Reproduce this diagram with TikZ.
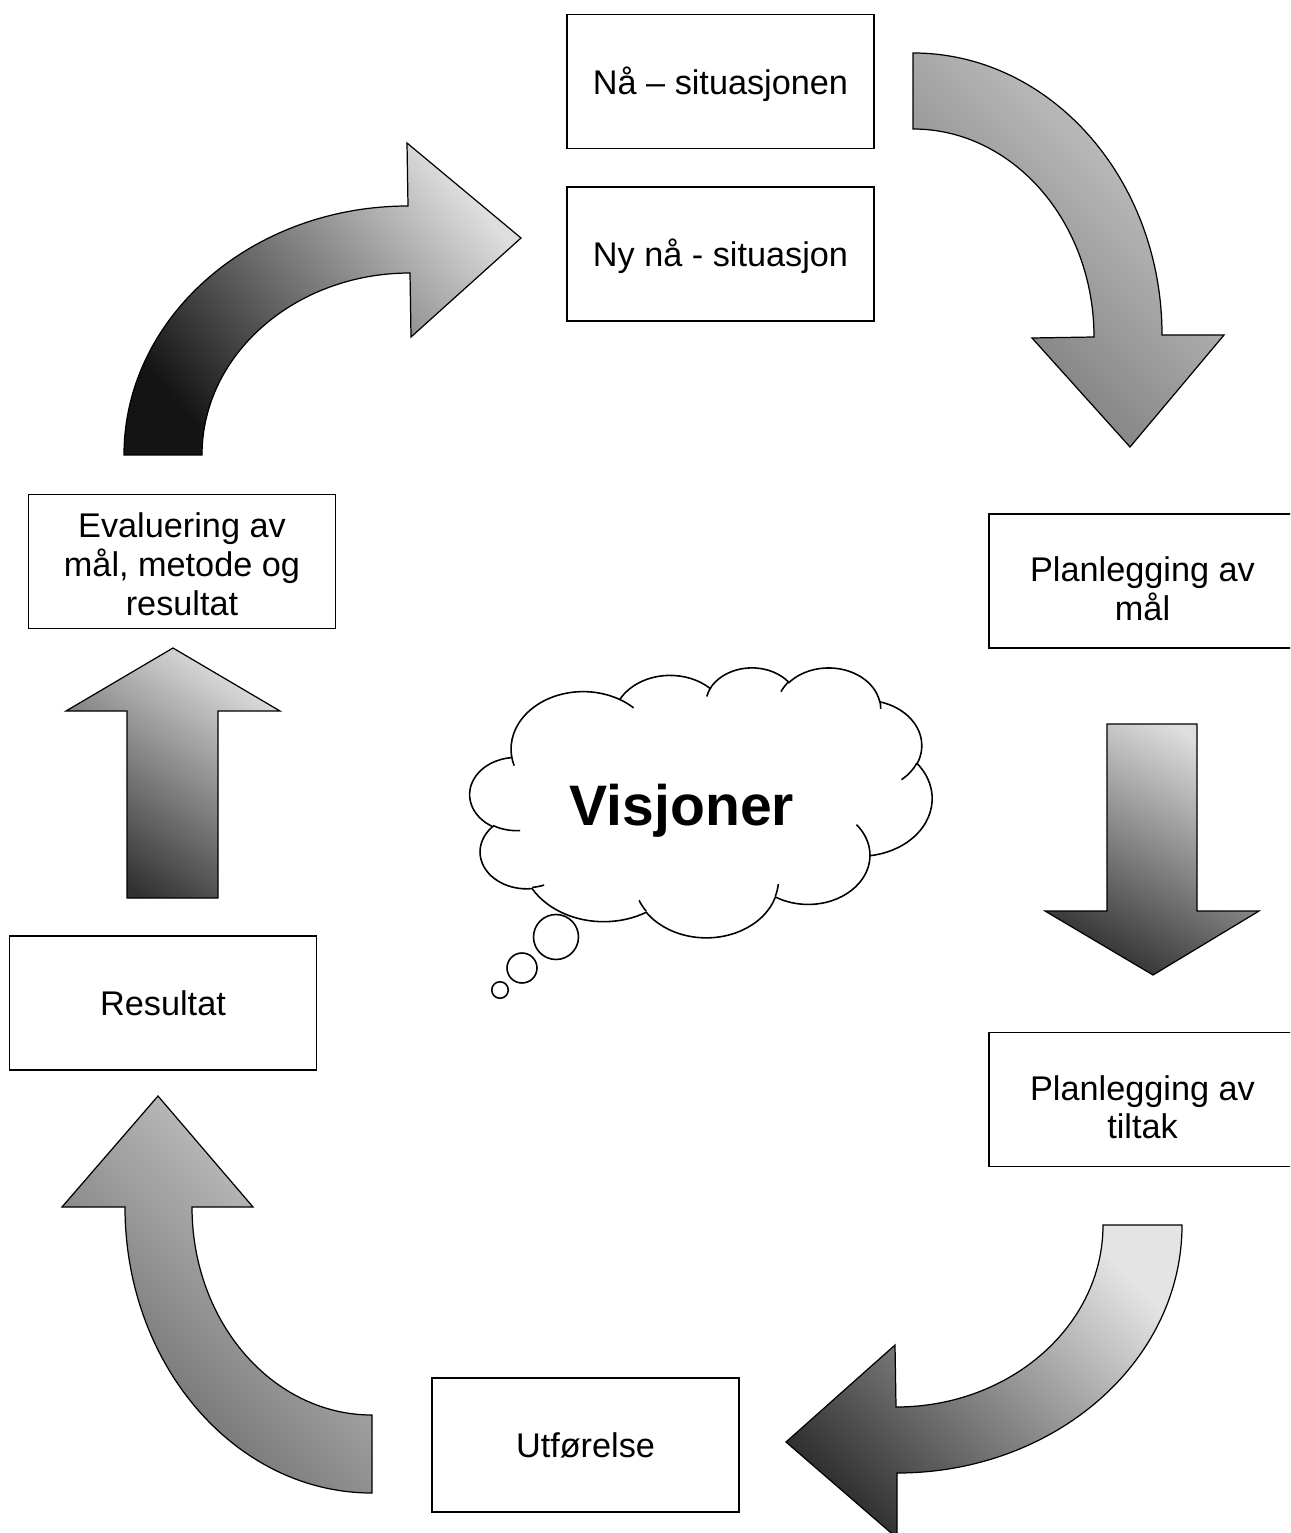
\documentclass[tikz,border=0pt]{standalone}
\usepackage{fontspec}
\setmainfont{Liberation Sans}
\usepackage{tikz}
\usetikzlibrary{positioning}

\definecolor{litea}{RGB}{205,205,205}
\definecolor{darka}{RGB}{115,115,115}
\definecolor{liteb}{RGB}{222,222,222}
\definecolor{darkb}{RGB}{20,20,20}
\definecolor{litec}{RGB}{228,228,228}
\definecolor{darkc}{RGB}{50,50,50}
\definecolor{lited}{RGB}{205,205,205}
\definecolor{darkd}{RGB}{100,100,100}

% parametric angle of an ellipse point given by its visual angle
\pgfmathdeclarefunction{pang}{2}{%
  \begingroup
  \pgfmathparse{#2+atan((#1-1)*sin(#2)*cos(#2)/(cos(#2)*cos(#2)+#1*sin(#2)*sin(#2)))}%
  \pgfmathsmuggle\pgfmathresult
  \endgroup}

\tikzset{
  stagebox/.style={draw, line width=1pt, minimum width=6.14cm, minimum height=2.68cm,
    align=center, inner sep=2pt, font=\fontsize{19.5}{22}\selectfont},
  blockarrow/.style={draw, line width=.7pt, line join=miter},
  cloudline/.style={line width=.9pt},
  cloudarc/.style n args={4}{insert path={arc[x radius=#1, y radius=#2,
    start angle={pang(#1/#2,#3)}, end angle={pang(#1/#2,#3+#4)}]}}
}

\begin{document}
\begin{tikzpicture}[x=0.02cm, y=-0.02cm]
			\useasboundingbox (0,0) rectangle (1290,1533);
			\fill[white] (0,0) rectangle (1290,1533);
			\clip (0,0) rectangle (1290,1533);
			% Nodes
			\foreach \boxname/\px/\py/\lift/\txt in {
					now/720.5/81.5/18.6pt/{Nå – situasjonen},
					newnow/720.5/254/18.6pt/{Ny nå - situasjon},
					goals/1142.5/581/23.1pt/{Planlegging av\\mål},
					measures/1142.5/1099.5/23.1pt/{Planlegging av\\tiltak},
					doing/585.5/1445/0pt/{Utførelse},
					result/163/1003/0pt/{Resultat},
					evaluation/182/561.5/17.4pt/{Evaluering av\\mål, metode og\\resultat}} {
				\node[stagebox] (\boxname) at (\px,\py) {\rule{0pt}{\lift}\txt};
			}
			% Arrows
			\draw[blockarrow, top color=litea, bottom color=darka, shading angle=-45]
				(913,53) arc[start angle=-90, end angle=0, x radius=249, y radius=282]
				-- (1224,335) -- (1130,447) -- (1032,338) -- (1094,337)
				arc[start angle=0, end angle=-90, x radius=181, y radius=208] -- cycle;
			\draw[blockarrow, top color=liteb, bottom color=darkc, shading angle=-30]
				(1107,724) -- (1197,724) -- (1197,911) -- (1259,911) -- (1153,975)
				-- (1045,911) -- (1107,911) -- cycle;
			\draw[blockarrow, top color=litec, bottom color=darkc, shading angle=-45]
				(1182,1225) arc[start angle=0, end angle=90, x radius=285, y radius=248]
				-- (897,1538) -- (786,1442) -- (895,1345) -- (896,1407)
				arc[start angle=90, end angle=0, x radius=207, y radius=182] -- cycle;
			\draw[blockarrow, top color=lited, bottom color=darkd, shading angle=-45]
				(372,1493) arc[start angle=90, end angle=180, x radius=247, y radius=286]
				-- (62,1207) -- (158,1096) -- (253,1207) -- (192,1207)
				arc[start angle=180, end angle=90, x radius=180, y radius=208] -- cycle;
			\draw[blockarrow, top color=liteb, bottom color=darkc, shading angle=-35]
				(127,898) -- (127,711) -- (66,711) -- (173,648) -- (280,711)
				-- (218,711) -- (218,898) -- cycle;
			\draw[blockarrow, top color=liteb, bottom color=darkb, shading angle=-50]
				(124,455) arc[start angle=180, end angle=270, x radius=284, y radius=249]
				-- (407,143) -- (521,238) -- (411,337) -- (410,273)
				arc[start angle=270, end angle=180, x radius=208, y radius=182] -- cycle;
			% Cloud
			\begin{scope}[shift={(470,667)}, x=0.021389cm, y=-0.0125cm]
				\filldraw[cloudline, fill=white] (39.00,143.70)
					[cloudarc={67.53}{91.90}{-190.4875}{123.7805}]
					[cloudarc={53.33}{72.67}{-144.1024}{89.9452}]
					[cloudarc={43.65}{59.45}{-145.8079}{99.7230}]
					[cloudarc={48.57}{65.95}{-130.9861}{117.2417}]
					[cloudarc={53.33}{72.73}{-78.7089}{109.0269}]
					[cloudarc={67.75}{92.20}{-46.2673}{130.2690}] coordinate (lobe7)
					[cloudarc={57.85}{78.67}{0.6250}{114.0333}]
					[cloudarc={67.52}{92.15}{22.4516}{115.1726}]
					[cloudarc={77.20}{105.43}{66.2426}{75.7110}]
					[cloudarc={43.60}{59.18}{-274.9421}{146.7356}]
					[cloudarc={43.45}{59.45}{-246.8285}{152.5189}] -- cycle;
				\draw[cloudline]
					(46.93,261.77) [cloudarc={43.45}{59.45}{86.7420}{26.4295}]
					(69.28,348.99) [cloudarc={43.60}{59.18}{73.6105}{11.4475}]
					(164.78,390.90) [cloudarc={67.52}{92.15}{137.6242}{14.0811}]
					(288.27,347.51) [cloudarc={67.52}{92.15}{6.4533}{15.9984}]
					(lobe7) [cloudarc={57.85}{78.67}{0.6250}{-48}]
					(417.98,153.54) [cloudarc={53.33}{72.73}{30.3180}{27.7515}]
					(383.24,54.26) [cloudarc={48.57}{65.95}{-13.7443}{14.8589}]
					(290.78,39.52) [cloudarc={48.57}{65.95}{-149.1815}{18.1954}]
					(221.41,47.20) [cloudarc={43.65}{59.45}{-163.4943}{17.6864}]
					(140.00,51.92) [cloudarc={67.53}{91.90}{-66.7070}{12.3194}]
					(41.27,157.89) [cloudarc={67.53}{91.90}{157.6544}{11.8582}];
			\end{scope}
			\foreach \i/\px/\py/\d in {1/556/937/0.9cm, 2/522/968/0.6cm, 3/500/990/0.33cm} {
				\node[circle, draw, cloudline, fill=white, inner sep=0pt, minimum size=\d] (bubble\i) at (\px,\py) {};
			}
			\node[anchor=base, font=\fontsize{32.5}{36}\selectfont\bfseries] (vision) at (682,825) {Visjoner};
		\end{tikzpicture}
\end{document}
